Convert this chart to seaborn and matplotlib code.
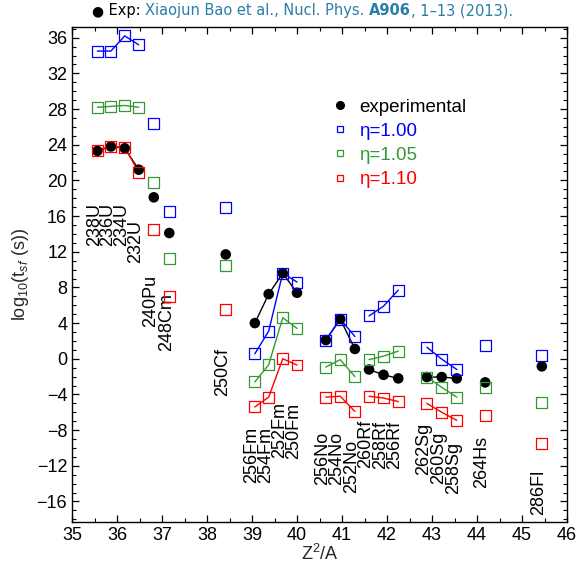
import numpy as np
import pandas as pd
import matplotlib
matplotlib.use("Agg")
import matplotlib.pyplot as plt
import seaborn as sns
from matplotlib.lines import Line2D
from matplotlib.ticker import MultipleLocator

# nuclei (Z, A) and log10 of spontaneous fission half-lives
nuclei = ["238U", "236U", "234U", "232U", "240Pu", "248Cm", "250Cf",
          "256Fm", "254Fm", "252Fm", "250Fm", "256No", "254No", "252No",
          "260Rf", "258Rf", "256Rf", "262Sg", "260Sg", "258Sg", "264Hs", "286Fl"]
element = ["U", "U", "U", "U", "Pu", "Cm", "Cf", "Fm", "Fm", "Fm", "Fm",
           "No", "No", "No", "Rf", "Rf", "Rf", "Sg", "Sg", "Sg", "Hs", "Fl"]
Z = [92, 92, 92, 92, 94, 96, 98, 100, 100, 100, 100, 102, 102, 102,
     104, 104, 104, 106, 106, 106, 108, 114]
A = [238, 236, 234, 232, 240, 248, 250, 256, 254, 252, 250, 256, 254, 252,
     260, 258, 256, 262, 260, 258, 264, 286]

experimental = [23.3, 23.8, 23.6, 21.2, 18.1, 14.1, 11.7, 4.0, 7.25, 9.6, 7.4,
                2.1, 4.45, 1.1, -1.2, -1.8, -2.2, -2.05, -2.05, -2.2, -2.65, -0.85]
eta_100 = [34.5, 34.5, 36.2, 35.2, 26.4, 16.5, 17.0, 0.56, 3.1, 9.6, 8.6,
           2.1, 4.45, 2.5, 4.8, 5.9, 7.7, 1.3, -0.04, -1.2, 1.5, 0.34]
eta_105 = [28.2, 28.3, 28.4, 28.2, 19.8, 11.2, 10.5, -2.6, -0.67, 4.6, 3.4,
           -0.93, -0.1, -2.0, -0.1, 0.3, 0.86, -2.05, -3.2, -4.3, -3.2, -4.9]
eta_110 = [23.4, 23.8, 23.7, 20.9, 14.5, 7.0, 5.5, -5.4, -4.3, 0.0, -0.7,
           -4.3, -4.2, -5.9, -4.2, -4.4, -4.8, -5.0, -6.0, -6.9, -6.4, -9.5]

series_names = ["experimental", "η=1.00", "η=1.05", "η=1.10"]
colors = {"experimental": "black", "η=1.00": "#0000ff",
          "η=1.05": "#339933", "η=1.10": "#ff0000"}

x = np.array(Z) ** 2 / np.array(A)
rows = []
for name, vals in zip(series_names, [experimental, eta_100, eta_105, eta_110]):
    for nuc, el, xv, v in zip(nuclei, element, x, vals):
        rows.append({"nucleus": nuc, "element": el, "z2a": xv, "series": name, "val": v})
df = pd.DataFrame(rows)

sns.set_theme(style="ticks")
plt.rcParams["font.family"] = ["Liberation Sans", "DejaVu Sans"]
plt.rcParams["mathtext.fontset"] = "custom"
plt.rcParams["mathtext.rm"] = "Liberation Sans"
plt.rcParams["mathtext.it"] = "Liberation Sans:italic"

fig = plt.figure(figsize=(5.79, 5.74), dpi=100)
ax = fig.add_axes([0.1244, 0.0906, 0.8549, 0.8624])

# lines joining isotopes of the same element
counts = df[df.series == "experimental"].element.value_counts()
chain = df[df.element.isin(counts[counts > 1].index)]
sns.lineplot(data=chain, x="z2a", y="val", hue="series", units="element",
             estimator=None, sort=False, palette=colors, lw=1.0,
             legend=False, ax=ax, zorder=2)

exp_df = df[df.series == "experimental"]
sns.scatterplot(data=exp_df, x="z2a", y="val", color="black", s=58,
                edgecolor="none", ax=ax, zorder=3)
for name in series_names[1:]:
    sub = df[df.series == name]
    sns.scatterplot(data=sub, x="z2a", y="val", marker="s", s=62,
                    facecolor="none", edgecolor=colors[name], linewidth=0.9,
                    ax=ax, zorder=4)

# nucleus labels
label_top = [17.5, 17.5, 17.5, 15.6, 9.4, 7.4, 1.2, -7.6, -7.6, -4.9, -4.9,
             -8.2, -8.2, -9.1, -6.8, -7.0, -7.0, -7.2, -8.2, -9.3, -8.7, -12.4]
for nuc, xv, yt in zip(nuclei, x, label_top):
    ax.text(xv - 0.07, yt, nuc, rotation=90, ha="center", va="top",
            fontsize=13, color="black")

ax.set_xlim(35, 46)
ax.set_ylim(-18.3, 37.2)
ax.xaxis.set_major_locator(MultipleLocator(1))
ax.xaxis.set_minor_locator(MultipleLocator(0.5))
ax.yaxis.set_minor_locator(MultipleLocator(1))
ax.set_yticks(np.arange(-16, 37, 4))
ax.tick_params(which="both", direction="in", top=True, right=True,
               labelsize=13, color="black", labelcolor="black")
ax.tick_params(which="major", length=5, width=0.9)
ax.tick_params(which="minor", length=3, width=0.8)
for sp in ax.spines.values():
    sp.set_color("black")
    sp.set_linewidth(1.0)
ax.set_xlabel("Z$^2$/A", fontsize=13, labelpad=0)
ax.set_ylabel("log$_{10}$(t$_{sf}$ (s))", fontsize=13, labelpad=4)

handles = [Line2D([], [], ls="", marker="o", color="black", ms=5.5)]
for name in series_names[1:]:
    handles.append(Line2D([], [], ls="", marker="s", mfc="none",
                          mec=colors[name], mew=0.9, ms=5))
ax.legend(handles, series_names, loc="upper left", bbox_to_anchor=(0.527, 0.855),
          frameon=False, fontsize=13.5, handlelength=0.8, handletextpad=0.6,
          labelspacing=0.37, borderpad=0, borderaxespad=0,
          labelcolor=[colors[n] for n in series_names])

# header line
teal = "#2a7ea6"
prev = fig.text(0.158, 0.968, "●", fontsize=10, color="black",
                family="DejaVu Sans", va="bottom")
parts = [(" Exp: ", "black", "normal"),
         ("Xiaojun Bao et al., Nucl. Phys. ", teal, "normal"),
         ("A906", teal, "bold"),
         (", 1–13 (2013).", teal, "normal")]
for txt, c, w in parts:
    prev = ax.annotate(txt, xy=(1, 0), xycoords=prev, va="bottom", ha="left",
                       fontsize=10.5, color=c, weight=w, family="DejaVu Sans",
                       annotation_clip=False)

fig.savefig("out.png", dpi=100)
